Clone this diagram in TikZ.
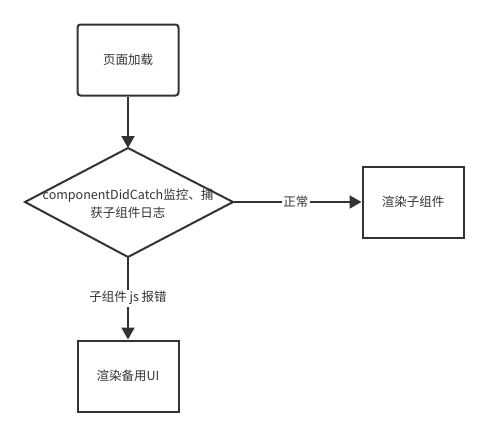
\documentclass[tikz,border=0pt]{standalone}
\usepackage{fontspec}
\newfontfamily\cjk{Noto Sans CJK SC}
\usetikzlibrary{arrows.meta}
\definecolor{ink}{HTML}{333333}
\begin{document}
\begin{tikzpicture}[x=1pt,y=-1pt,
  every node/.style={font=\cjk\fontsize{12.5}{18}\selectfont, text=ink},
  box/.style={draw=ink, line width=2pt, minimum width=101pt, minimum height=71pt, inner sep=0pt},
  conn/.style={draw=ink, line width=2pt, -{Triangle[length=12pt,width=13pt]}},
  lbl/.style={fill=white, inner sep=1.5pt}]
\useasboundingbox (0,0) rectangle (488,437);
\node[box, rounded corners=3pt] (load) at (128,60) {页面加载};
\coordinate (dt) at (128,148);
\coordinate (db) at (128,257);
\coordinate (dl) at (25,202);
\coordinate (dr) at (233,202);
\draw[ink, line width=2pt, line join=miter] (dt) -- (dr) -- (db) -- (dl) -- cycle;
\node[align=center, inner sep=0pt] (dec) at (128,204) {componentDidCatch监控、捕\\获子组件日志};
\node[box] (ok) at (413,202) {渲染子组件};
\node[box] (fb) at (128,376) {渲染备用UI};
\draw[conn] (load.south) -- (dt);
\draw[conn] (dr) -- (ok.west) node[lbl, pos=0.49] {正常};
\draw[conn] (db) -- (fb.north) node[lbl, pos=0.5] {子组件 js 报错};
\end{tikzpicture}
\end{document}
